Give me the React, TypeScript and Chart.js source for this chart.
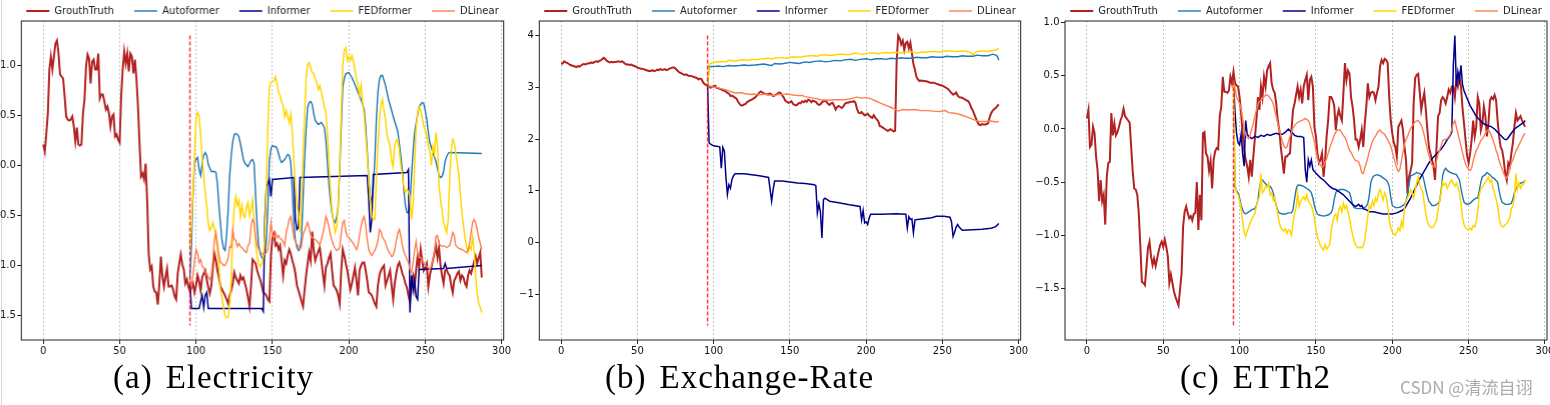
import React, { useEffect, useRef } from "react";
import { Chart, registerables } from "chart.js";
Chart.register(...registerables);

type P = [number, number][];

const SERIES_NAMES = ["GrouthTruth", "Autoformer", "Informer", "FEDformer", "DLinear"];
const SERIES_COLORS = ["#b22222", "#1f77b4", "#00008b", "#ffd700", "#ff7f50"];
const SERIES_WIDTHS = [2, 1.4, 1.5, 1.5, 1.4];
const X_TICKS = [0, 50, 100, 150, 200, 250, 300];

// ---------- (a) Electricity ----------
const elecTruth: P = [[0,0.21],[1,0.14],[2,0.32],[3,0.52],[4,0.96],[5,1.09],[6,0.96],[7,1.09],[8,1.22],[9,1.25],[10,1.12],[11,0.91],[12,0.89],[13,0.87],[14,0.69],[15,0.49],[16,0.46],[17,0.45],[18,0.46],[19,0.49],[20,0.39],[21,0.24],[22,0.38],[23,0.21],[24,0.20],[25,0.21],[26,0.52],[27,0.66],[28,0.99],[29,1.11],[30,1.07],[31,0.82],[32,1.04],[33,1.06],[34,0.96],[35,0.96],[36,1.12],[37,0.67],[38,0.71],[39,0.71],[40,0.64],[41,0.56],[42,0.59],[43,0.52],[44,0.39],[45,0.49],[46,0.51],[47,0.29],[48,0.31],[49,0.26],[50,0.23],[51,0.69],[52,0.96],[53,1.14],[54,1.02],[55,1.12],[56,0.94],[57,1.12],[58,1.09],[59,0.92],[60,1.06],[61,0.86],[62,0.59],[63,0.22],[64,-0.11],[65,-0.08],[66,-0.14],[67,0.02],[68,-0.34],[69,-0.88],[70,-1.04],[71,-1.01],[72,-1.21],[73,-1.26],[74,-1.27],[75,-1.39],[76,-1.18],[77,-0.91],[78,-1.11],[79,-1.21],[80,-1.11],[81,-1.03],[82,-1.21],[83,-1.21],[84,-1.20],[85,-1.24],[86,-1.31],[87,-1.34],[88,-1.08],[89,-0.98],[90,-0.89],[91,-0.99],[92,-1.04],[93,-1.18],[94,-1.14],[95,-1.21],[96,-1.26],[97,-1.22],[98,-1.18],[99,-1.27],[100,-1.20],[101,-1.10],[102,-1.16],[103,-1.25],[104,-1.12],[105,-1.08],[106,-1.05],[107,-1.14],[108,-1.22],[109,-1.28],[110,-1.20],[111,-1.02],[112,-0.88],[113,-0.95],[114,-1.05],[115,-1.12],[116,-1.21],[117,-1.24],[118,-1.27],[119,-1.30],[120,-1.34],[121,-1.38],[122,-1.30],[123,-1.25],[124,-1.18],[125,-1.07],[126,-1.12],[127,-1.15],[128,-1.18],[129,-1.10],[130,-1.14],[131,-1.12],[132,-1.18],[133,-1.24],[134,-1.32],[135,-1.41],[136,-1.20],[137,-0.94],[138,-0.96],[139,-0.98],[140,-1.05],[141,-1.10],[142,-1.14],[143,-1.20],[144,-1.27],[145,-1.28],[146,-1.30],[147,-1.34],[148,-1.36],[149,-0.90],[150,-0.72],[151,-0.68],[152,-0.80],[153,-0.78],[154,-0.84],[155,-0.80],[156,-0.95],[157,-1.10],[158,-0.95],[159,-0.98],[160,-0.90],[161,-0.84],[162,-0.88],[163,-0.95],[164,-1.00],[165,-1.08],[166,-1.20],[167,-1.25],[168,-1.30],[169,-1.36],[170,-1.41],[171,-1.25],[172,-1.10],[173,-0.98],[174,-0.87],[175,-0.95],[176,-0.66],[177,-0.85],[178,-0.95],[179,-0.90],[180,-0.86],[181,-0.82],[182,-0.95],[183,-1.08],[184,-1.20],[185,-1.02],[186,-0.98],[187,-0.92],[188,-0.88],[189,-1.05],[190,-1.20],[191,-1.22],[192,-1.25],[193,-1.30],[194,-1.38],[195,-1.05],[196,-0.84],[197,-0.90],[198,-0.98],[199,-1.05],[200,-1.15],[201,-1.24],[202,-1.18],[203,-1.10],[204,-1.02],[205,-1.15],[206,-1.30],[207,-1.05],[208,-1.00],[209,-0.97],[210,-0.97],[211,-1.05],[212,-1.15],[213,-1.27],[214,-1.28],[215,-1.30],[216,-1.34],[217,-1.38],[218,-1.41],[219,-1.20],[220,-1.10],[221,-1.05],[222,-1.02],[223,-1.00],[224,-1.20],[225,-1.15],[226,-1.10],[227,-1.05],[228,-1.20],[229,-1.34],[230,-1.18],[231,-1.08],[232,-1.00],[233,-0.97],[234,-1.02],[235,-1.08],[236,-1.12],[237,-1.18],[238,-1.22],[239,-1.30],[240,-1.37],[241,-1.15],[242,-1.10],[243,-1.22],[244,-1.05],[245,-0.91],[246,-1.02],[247,-0.84],[248,-0.95],[249,-1.05],[250,-1.02],[251,-0.98],[252,-1.21],[253,-1.10],[254,-1.02],[255,-0.95],[256,-0.88],[257,-0.81],[258,-0.92],[259,-0.82],[260,-1.00],[261,-1.10],[262,-1.18],[263,-1.05],[264,-1.04],[265,-1.08],[266,-1.10],[267,-1.20],[268,-1.27],[269,-1.15],[270,-1.12],[271,-1.08],[272,-1.06],[273,-1.15],[274,-1.10],[275,-1.12],[276,-1.18],[277,-1.21],[278,-1.10],[279,-1.05],[280,-1.08],[281,-1.02],[282,-0.96],[283,-0.91],[284,-0.98],[285,-0.92],[286,-0.87],[287,-1.12]];
const elecAuto: P = [[96,-1.14],[97,-0.80],[98,-0.30],[99,0.03],[100,0.06],[101,0.08],[102,-0.04],[103,-0.10],[104,0.02],[105,0.10],[106,0.13],[107,0.10],[108,0.01],[110,-0.06],[112,-0.06],[113,-0.07],[114,-0.18],[115,-0.40],[116,-0.58],[117,-0.75],[118,-0.83],[119,-0.85],[120,-0.70],[121,-0.45],[122,-0.10],[123,0.10],[124,0.24],[125,0.31],[126,0.32],[127,0.31],[128,0.29],[129,0.22],[130,0.14],[131,0.06],[132,0.02],[134,-0.01],[135,0.02],[136,0.05],[137,0.06],[138,0.02],[139,-0.30],[140,-0.60],[141,-0.80],[142,-0.88],[143,-0.92],[144,-0.94],[145,-0.90],[146,-0.75],[147,-0.41],[148,0.05],[149,0.17],[150,0.20],[151,0.19],[152,0.19],[153,0.17],[154,0.12],[155,0.06],[156,0.03],[158,0.06],[160,0.11],[161,0.10],[162,0.03],[163,-0.25],[164,-0.58],[165,-0.75],[166,-0.82],[167,-0.85],[168,-0.82],[169,-0.72],[170,-0.35],[171,0.05],[172,0.36],[173,0.58],[174,0.63],[175,0.64],[176,0.61],[177,0.52],[178,0.45],[180,0.41],[182,0.43],[184,0.38],[185,0.25],[186,0.02],[187,-0.20],[188,-0.36],[189,-0.48],[190,-0.55],[191,-0.57],[192,-0.52],[193,-0.41],[194,-0.05],[195,0.38],[196,0.78],[197,0.87],[198,0.92],[200,0.93],[202,0.88],[204,0.81],[206,0.73],[208,0.66],[210,0.56],[211,0.40],[212,0.15],[213,-0.12],[214,-0.30],[215,-0.37],[216,-0.22],[217,0.06],[218,0.46],[219,0.73],[220,0.86],[221,0.90],[222,0.90],[224,0.80],[226,0.66],[228,0.55],[230,0.44],[232,0.34],[234,0.10],[235,-0.05],[236,-0.25],[237,-0.40],[238,-0.47],[239,-0.47],[240,-0.40],[241,-0.10],[242,0.13],[243,0.33],[244,0.42],[246,0.59],[248,0.63],[249,0.62],[250,0.55],[251,0.46],[252,0.33],[253,0.23],[255,0.13],[257,0.04],[258,-0.03],[259,-0.10],[260,-0.12],[261,-0.11],[262,-0.06],[263,0.04],[264,0.09],[265,0.12],[266,0.13],[287,0.12]];
const elecInf: P = [[96,-1.18],[97,-1.43],[102,-1.43],[103,-1.36],[104,-1.30],[105,-1.42],[106,-1.30],[107,-1.27],[108,-1.43],[143,-1.43],[144,-1.46],[145,-0.54],[146,-0.21],[147,-0.18],[148,-0.14],[149,-0.31],[150,-0.14],[164,-0.12],[165,-0.55],[166,-0.64],[167,-0.62],[168,-0.12],[212,-0.10],[213,-0.34],[214,-0.67],[215,-0.54],[216,-0.09],[238,-0.07],[239,-0.04],[240,-1.47],[241,-1.10],[242,-1.25],[243,-1.14],[244,-1.31],[245,-1.34],[246,-1.04],[262,-1.03],[263,-0.98],[264,-1.03],[287,-1.00]];
const elecFed: P = [[96,-0.85],[97,-0.60],[98,-0.25],[99,0.10],[100,0.46],[101,0.53],[102,0.49],[103,0.30],[104,0.08],[105,-0.10],[106,-0.27],[107,-0.40],[108,-0.58],[109,-0.65],[110,-0.62],[111,-0.57],[112,-0.63],[113,-0.71],[114,-0.85],[115,-1.00],[116,-1.25],[117,-1.32],[118,-1.42],[119,-1.50],[120,-1.52],[121,-1.52],[122,-1.40],[123,-1.14],[124,-0.67],[125,-0.41],[126,-0.31],[127,-0.40],[128,-0.35],[129,-0.51],[130,-0.40],[131,-0.50],[132,-0.52],[133,-0.42],[134,-0.37],[135,-0.50],[136,-0.44],[137,-0.34],[138,-0.55],[139,-0.80],[140,-0.90],[141,-0.98],[142,-1.01],[143,-0.98],[144,-0.92],[145,-0.71],[146,-0.21],[147,0.39],[148,0.79],[149,0.83],[150,0.84],[151,0.85],[152,0.89],[153,0.82],[154,0.73],[155,0.70],[156,0.63],[157,0.60],[158,0.49],[159,0.55],[160,0.49],[161,0.43],[162,0.52],[163,0.33],[164,0.05],[165,-0.20],[166,-0.40],[167,-0.47],[168,-0.67],[169,-0.37],[170,0.06],[171,0.50],[172,0.86],[173,1.01],[174,1.03],[175,0.98],[176,0.93],[177,0.92],[178,0.87],[179,0.83],[180,0.76],[181,0.80],[182,0.73],[183,0.66],[184,0.59],[185,0.53],[186,0.33],[187,0.00],[188,-0.25],[189,-0.45],[190,-0.57],[191,-0.67],[192,-0.62],[193,-0.41],[194,0.00],[195,0.53],[196,1.00],[197,1.15],[198,1.18],[199,1.05],[200,1.09],[201,1.05],[202,1.10],[203,1.04],[204,0.95],[205,0.86],[206,0.82],[207,0.70],[208,0.80],[209,0.63],[210,0.50],[211,0.30],[212,0.10],[213,-0.15],[214,-0.35],[215,-0.50],[216,-0.54],[217,-0.54],[218,-0.14],[219,0.19],[220,0.46],[221,0.60],[222,0.66],[223,0.55],[224,0.46],[225,0.30],[226,0.25],[227,0.19],[228,0.05],[229,-0.01],[230,0.20],[231,0.25],[232,0.26],[233,0.15],[234,0.00],[235,-0.10],[236,-0.21],[237,-0.27],[238,-0.24],[239,-0.26],[240,-0.31],[241,-0.54],[242,-0.40],[243,0.00],[244,0.36],[245,0.53],[246,0.59],[247,0.55],[248,0.48],[249,0.40],[250,0.35],[251,0.29],[252,0.20],[253,0.13],[254,0.00],[255,0.19],[256,0.12],[257,0.33],[258,0.20],[259,-0.20],[260,-0.35],[261,-0.45],[262,-0.57],[263,-0.62],[264,-0.67],[265,-0.55],[266,-0.14],[267,0.15],[268,0.26],[269,0.23],[270,0.12],[271,0.02],[272,-0.10],[273,-0.30],[274,-0.48],[275,-0.60],[276,-0.72],[277,-0.81],[278,-0.87],[279,-0.81],[280,-0.84],[281,-0.71],[282,-0.85],[283,-1.10],[284,-1.28],[285,-1.38],[286,-1.42],[287,-1.47]];
const elecDlin: P = [[96,-1.14],[97,-1.21],[98,-1.10],[99,-0.95],[100,-0.84],[101,-0.88],[102,-0.97],[103,-0.94],[104,-1.01],[105,-1.02],[106,-1.07],[107,-1.08],[108,-1.12],[109,-1.14],[110,-1.10],[111,-0.94],[112,-0.74],[113,-0.67],[114,-0.78],[115,-0.90],[116,-0.97],[117,-0.98],[118,-1.00],[119,-1.00],[120,-0.97],[121,-0.93],[122,-0.81],[123,-0.82],[124,-0.64],[125,-0.74],[126,-0.75],[127,-0.81],[128,-0.78],[129,-0.81],[130,-0.82],[131,-0.84],[132,-0.86],[133,-0.87],[134,-0.80],[135,-0.78],[136,-0.61],[137,-0.54],[138,-0.57],[139,-0.70],[140,-0.80],[141,-0.84],[142,-0.86],[143,-0.88],[144,-0.89],[145,-0.89],[146,-0.87],[147,-0.84],[148,-0.74],[149,-0.57],[150,-0.70],[151,-0.72],[152,-0.67],[153,-0.72],[154,-0.70],[155,-0.73],[156,-0.74],[157,-0.76],[158,-0.80],[159,-0.67],[160,-0.61],[161,-0.54],[162,-0.51],[163,-0.62],[164,-0.72],[165,-0.76],[166,-0.79],[167,-0.81],[168,-0.84],[169,-0.81],[170,-0.69],[171,-0.65],[172,-0.61],[173,-0.57],[174,-0.62],[175,-0.70],[176,-0.72],[178,-0.74],[180,-0.77],[181,-0.80],[182,-0.74],[183,-0.68],[184,-0.61],[185,-0.51],[186,-0.55],[187,-0.62],[188,-0.70],[189,-0.75],[190,-0.80],[191,-0.83],[192,-0.85],[193,-0.84],[194,-0.82],[195,-0.68],[196,-0.57],[197,-0.55],[198,-0.66],[199,-0.71],[200,-0.72],[201,-0.74],[202,-0.76],[203,-0.78],[204,-0.81],[205,-0.84],[206,-0.80],[207,-0.70],[208,-0.61],[209,-0.54],[210,-0.51],[211,-0.60],[212,-0.74],[213,-0.84],[214,-0.88],[215,-0.90],[216,-0.87],[217,-0.85],[218,-0.81],[219,-0.75],[220,-0.64],[221,-0.66],[222,-0.72],[223,-0.74],[224,-0.77],[225,-0.82],[226,-0.86],[227,-0.88],[228,-0.91],[229,-0.90],[230,-0.84],[231,-0.75],[232,-0.68],[233,-0.64],[234,-0.70],[235,-0.80],[236,-0.86],[237,-0.90],[238,-0.94],[239,-0.97],[240,-1.04],[241,-1.07],[242,-0.97],[243,-0.85],[244,-0.76],[245,-0.88],[246,-0.92],[247,-0.92],[248,-0.95],[249,-0.97],[250,-1.00],[251,-1.01],[252,-1.02],[253,-1.04],[254,-1.00],[255,-0.94],[256,-0.86],[257,-0.71],[258,-0.70],[259,-0.78],[260,-0.80],[261,-0.81],[262,-0.80],[264,-0.82],[266,-0.80],[267,-0.74],[268,-0.67],[269,-0.70],[270,-0.80],[272,-0.83],[274,-0.84],[276,-0.86],[277,-0.87],[278,-0.85],[279,-0.78],[280,-0.67],[281,-0.57],[282,-0.54],[283,-0.57],[284,-0.64],[285,-0.72],[286,-0.78],[287,-0.84]];
const elecSplit: P = [[96,1.3],[96,-1.6]];
const elecYTicks = [-1.5, -1, -0.5, 0, 0.5, 1];

// ---------- (b) Exchange-Rate ----------
const rateTruth: P = [[0,3.45],[1,3.46],[2,3.50],[3,3.48],[4,3.47],[5,3.45],[6,3.43],[7,3.42],[8,3.41],[9,3.40],[10,3.39],[11,3.41],[12,3.40],[13,3.42],[14,3.44],[15,3.45],[16,3.44],[17,3.46],[18,3.46],[19,3.47],[20,3.48],[21,3.47],[22,3.49],[23,3.50],[24,3.49],[25,3.51],[26,3.52],[27,3.55],[28,3.57],[29,3.54],[30,3.51],[31,3.49],[32,3.48],[33,3.49],[34,3.48],[35,3.49],[36,3.49],[37,3.50],[38,3.50],[39,3.49],[40,3.50],[41,3.48],[42,3.45],[43,3.44],[44,3.44],[45,3.43],[46,3.44],[47,3.42],[48,3.41],[49,3.40],[50,3.38],[51,3.37],[52,3.36],[53,3.36],[54,3.35],[55,3.34],[56,3.33],[57,3.32],[58,3.31],[59,3.32],[60,3.33],[61,3.31],[62,3.32],[63,3.34],[64,3.33],[65,3.35],[66,3.34],[67,3.34],[68,3.35],[69,3.33],[70,3.34],[71,3.36],[72,3.37],[73,3.38],[74,3.38],[75,3.36],[76,3.33],[77,3.30],[78,3.28],[79,3.27],[80,3.25],[81,3.24],[82,3.25],[83,3.23],[84,3.22],[85,3.22],[86,3.21],[87,3.20],[88,3.19],[89,3.18],[90,3.15],[91,3.17],[92,3.16],[93,3.10],[94,3.06],[95,3.05],[96,3.03],[97,3.02],[98,2.99],[99,3.01],[100,3.02],[101,3.03],[102,2.99],[103,2.98],[104,2.97],[105,2.96],[106,2.94],[107,2.93],[108,2.92],[109,2.89],[110,2.88],[111,2.83],[112,2.84],[113,2.82],[114,2.80],[115,2.78],[116,2.72],[117,2.68],[118,2.65],[119,2.65],[120,2.67],[121,2.68],[122,2.72],[123,2.73],[124,2.75],[125,2.76],[126,2.78],[127,2.80],[128,2.83],[129,2.86],[130,2.90],[131,2.92],[132,2.90],[133,2.88],[134,2.87],[135,2.86],[136,2.87],[137,2.88],[138,2.86],[139,2.83],[140,2.84],[141,2.86],[142,2.88],[143,2.90],[144,2.89],[145,2.84],[146,2.80],[147,2.74],[148,2.72],[149,2.70],[150,2.71],[151,2.73],[152,2.68],[153,2.66],[154,2.65],[155,2.67],[156,2.70],[157,2.69],[158,2.73],[159,2.71],[160,2.74],[161,2.72],[162,2.76],[163,2.75],[164,2.71],[165,2.74],[166,2.73],[167,2.72],[168,2.68],[169,2.66],[170,2.67],[171,2.71],[172,2.73],[173,2.74],[174,2.72],[175,2.68],[176,2.66],[177,2.69],[178,2.70],[179,2.64],[180,2.57],[181,2.62],[182,2.64],[183,2.62],[184,2.60],[185,2.63],[186,2.68],[187,2.70],[188,2.70],[189,2.71],[190,2.72],[191,2.72],[192,2.73],[193,2.70],[194,2.58],[195,2.51],[196,2.50],[197,2.52],[198,2.49],[199,2.46],[200,2.47],[201,2.49],[202,2.45],[203,2.43],[204,2.41],[205,2.46],[206,2.41],[207,2.38],[208,2.34],[209,2.25],[210,2.24],[211,2.22],[212,2.20],[213,2.18],[214,2.16],[215,2.17],[216,2.19],[217,2.17],[218,2.15],[219,2.16],[220,3.50],[221,4.00],[222,3.95],[223,3.83],[224,3.90],[225,3.72],[226,3.86],[227,3.88],[228,3.75],[229,3.86],[230,3.66],[231,3.45],[232,3.34],[233,3.20],[234,3.15],[235,3.12],[236,3.13],[238,3.12],[240,3.11],[242,3.09],[244,3.09],[246,3.07],[248,3.05],[250,3.03],[252,3.00],[254,2.96],[255,2.92],[256,2.89],[257,2.86],[258,2.87],[259,2.90],[260,2.84],[261,2.81],[263,2.80],[265,2.76],[267,2.73],[268,2.68],[269,2.60],[270,2.55],[271,2.47],[272,2.40],[273,2.33],[274,2.28],[275,2.27],[276,2.29],[277,2.28],[278,2.28],[279,2.29],[280,2.31],[281,2.42],[282,2.50],[283,2.55],[284,2.58],[285,2.60],[286,2.64],[287,2.67]];
const rateAuto: P = [[96,3.03],[97,3.40],[100,3.40],[103,3.41],[106,3.40],[110,3.42],[113,3.41],[117,3.42],[120,3.43],[123,3.42],[127,3.43],[130,3.44],[133,3.45],[136,3.43],[138,3.42],[140,3.46],[143,3.45],[146,3.46],[150,3.48],[153,3.47],[156,3.46],[160,3.49],[163,3.48],[166,3.50],[170,3.51],[173,3.49],[176,3.50],[180,3.52],[183,3.51],[186,3.53],[190,3.54],[193,3.52],[196,3.54],[200,3.55],[203,3.53],[206,3.55],[210,3.55],[213,3.54],[216,3.56],[220,3.55],[223,3.57],[226,3.56],[230,3.56],[233,3.58],[236,3.57],[240,3.57],[243,3.59],[246,3.58],[250,3.58],[253,3.60],[256,3.59],[260,3.59],[263,3.61],[266,3.60],[270,3.60],[273,3.62],[276,3.61],[280,3.61],[283,3.64],[285,3.62],[286,3.60],[287,3.52]];
const rateInf: P = [[96,3.05],[97,1.93],[98,1.90],[100,1.87],[104,1.85],[105,1.44],[106,1.84],[107,1.77],[108,1.28],[109,0.93],[110,1.12],[111,1.05],[112,1.22],[113,1.29],[114,1.33],[120,1.33],[125,1.31],[130,1.29],[136,1.26],[137,1.03],[138,0.80],[139,1.03],[140,1.19],[145,1.19],[150,1.17],[155,1.15],[160,1.14],[166,1.12],[167,1.10],[168,0.57],[169,0.75],[170,0.60],[171,0.09],[172,0.83],[173,0.86],[176,0.80],[182,0.77],[189,0.73],[196,0.70],[197,0.44],[198,0.62],[199,0.38],[200,0.40],[201,0.35],[202,0.48],[203,0.55],[210,0.55],[220,0.56],[226,0.55],[227,0.28],[228,0.50],[229,0.45],[230,0.46],[231,0.19],[232,0.44],[235,0.45],[243,0.48],[246,0.51],[251,0.51],[255,0.49],[256,0.40],[257,0.12],[258,0.20],[259,0.30],[260,0.35],[261,0.30],[263,0.24],[270,0.25],[276,0.26],[282,0.28],[285,0.31],[287,0.37]];
const rateFed: P = [[96,3.05],[97,3.45],[99,3.47],[102,3.49],[105,3.50],[108,3.49],[110,3.52],[113,3.51],[115,3.51],[118,3.53],[120,3.53],[123,3.52],[125,3.54],[128,3.53],[130,3.54],[133,3.55],[135,3.56],[138,3.55],[140,3.56],[143,3.57],[145,3.57],[148,3.56],[150,3.58],[153,3.59],[155,3.58],[158,3.59],[160,3.60],[163,3.61],[165,3.61],[168,3.60],[170,3.62],[173,3.63],[175,3.62],[178,3.62],[180,3.63],[183,3.64],[185,3.64],[188,3.63],[190,3.64],[193,3.66],[195,3.65],[198,3.64],[200,3.65],[203,3.66],[205,3.66],[208,3.65],[210,3.66],[213,3.67],[215,3.66],[218,3.67],[220,3.67],[223,3.66],[225,3.67],[228,3.68],[230,3.68],[233,3.66],[235,3.67],[238,3.68],[240,3.68],[243,3.69],[245,3.69],[248,3.68],[250,3.69],[253,3.70],[255,3.70],[258,3.69],[260,3.69],[263,3.70],[265,3.70],[268,3.68],[270,3.63],[272,3.68],[275,3.70],[278,3.70],[280,3.69],[283,3.71],[285,3.72],[287,3.75]];
const rateDlin: P = [[96,3.03],[98,3.02],[100,3.00],[102,3.00],[104,2.98],[107,2.96],[110,2.93],[113,2.90],[116,2.89],[118,2.90],[120,2.88],[124,2.86],[126,2.87],[128,2.86],[132,2.86],[134,2.87],[136,2.85],[140,2.84],[142,2.86],[145,2.86],[148,2.87],[150,2.86],[155,2.84],[158,2.84],[160,2.82],[165,2.79],[168,2.78],[170,2.76],[175,2.75],[178,2.76],[180,2.76],[185,2.76],[188,2.77],[190,2.78],[194,2.81],[197,2.79],[200,2.80],[203,2.78],[206,2.74],[209,2.70],[213,2.65],[217,2.60],[221,2.54],[224,2.57],[228,2.56],[232,2.57],[236,2.55],[240,2.55],[244,2.54],[248,2.53],[252,2.55],[254,2.51],[258,2.50],[262,2.47],[266,2.43],[270,2.38],[274,2.34],[278,2.34],[282,2.35],[285,2.33],[287,2.34]];
const rateSplit: P = [[96,4.0],[96,-1.6]];
const rateYTicks = [-1, 0, 1, 2, 3, 4];

// ---------- (c) ETTh2 ----------
const etthTruth: P = [[0,0.10],[1,0.18],[2,-0.17],[3,-0.15],[4,0.02],[5,-0.04],[6,-0.26],[7,-0.39],[8,-0.68],[9,-0.48],[10,-0.68],[11,-0.62],[12,-0.90],[13,-0.45],[14,-0.32],[15,-0.31],[16,0.15],[17,-0.06],[18,0.05],[19,-0.06],[20,-0.03],[21,0.02],[22,0.08],[23,0.12],[24,0.19],[25,0.12],[26,0.10],[27,0.08],[28,0.06],[29,-0.17],[30,-0.40],[31,-0.56],[32,-0.57],[33,-0.62],[34,-0.80],[35,-1.10],[36,-1.44],[37,-1.45],[38,-1.47],[39,-1.30],[40,-1.12],[41,-1.06],[42,-1.20],[43,-1.28],[44,-1.22],[45,-1.29],[46,-1.22],[47,-1.15],[48,-1.09],[49,-1.06],[50,-1.11],[51,-1.04],[52,-1.11],[53,-1.20],[54,-1.45],[55,-1.37],[56,-1.45],[57,-1.53],[58,-1.58],[59,-1.62],[60,-1.66],[61,-1.51],[62,-1.36],[63,-0.92],[64,-0.78],[65,-0.73],[66,-0.79],[67,-0.84],[68,-0.82],[69,-0.86],[70,-0.80],[71,-0.79],[72,-0.50],[73,-0.95],[74,-0.62],[75,-0.86],[76,-0.04],[77,-0.03],[78,-0.23],[79,-0.26],[80,-0.39],[81,-0.30],[82,-0.56],[83,-0.29],[84,-0.21],[85,-0.18],[86,-0.19],[87,0.12],[88,0.21],[89,0.49],[90,0.35],[91,0.35],[92,0.34],[93,0.36],[94,0.49],[95,0.43],[96,0.54],[97,0.43],[98,0.41],[99,0.40],[100,0.30],[101,0.15],[102,-0.04],[103,-0.20],[104,-0.29],[105,-0.35],[106,-0.45],[107,-0.29],[108,-0.45],[109,-0.26],[110,-0.09],[111,0.08],[112,0.30],[113,0.18],[114,0.40],[115,0.30],[116,0.49],[117,0.40],[118,0.55],[119,0.59],[120,0.62],[121,0.43],[122,0.37],[123,0.34],[124,0.24],[125,0.08],[126,-0.01],[127,-0.17],[128,-0.29],[129,-0.42],[130,-0.26],[131,-0.26],[132,-0.24],[133,-0.23],[134,-0.01],[135,0.18],[136,0.24],[137,0.32],[138,0.40],[139,0.30],[140,0.37],[141,0.24],[142,0.40],[143,0.46],[144,0.51],[145,0.27],[146,0.46],[147,0.49],[148,0.40],[149,0.02],[150,-0.07],[151,-0.23],[152,-0.32],[153,-0.29],[154,-0.23],[155,-0.45],[156,-0.30],[157,-0.07],[158,0.08],[159,0.30],[160,0.30],[161,0.27],[162,0.22],[163,-0.01],[164,0.12],[165,0.18],[166,0.12],[167,0.08],[168,0.34],[169,0.62],[170,0.46],[171,0.55],[172,0.52],[173,0.30],[174,0.21],[175,0.08],[176,-0.10],[177,-0.10],[178,-0.17],[179,-0.10],[180,-0.01],[181,-0.17],[182,0.05],[183,0.21],[184,0.43],[185,0.30],[186,0.34],[187,0.35],[188,0.34],[189,0.27],[190,0.34],[191,0.40],[192,0.59],[193,0.65],[194,0.62],[195,0.66],[196,0.65],[197,0.62],[198,0.30],[199,0.08],[200,-0.04],[201,-0.13],[202,-0.17],[203,-0.26],[204,0.02],[205,0.05],[206,0.08],[207,-0.01],[208,-0.17],[209,-0.29],[210,-0.61],[211,-0.45],[212,-0.39],[213,-0.32],[214,0.24],[215,0.48],[216,0.51],[217,0.52],[218,0.35],[219,0.18],[220,0.27],[221,0.34],[222,0.18],[223,-0.01],[224,-0.17],[225,-0.23],[226,-0.29],[227,-0.35],[228,-0.48],[229,-0.17],[230,0.12],[231,0.15],[232,0.27],[233,0.30],[234,0.28],[235,0.24],[236,0.30],[237,0.37],[238,0.34],[239,0.40],[240,0.40],[241,0.30],[242,0.46],[243,0.40],[244,0.49],[245,0.40],[246,0.20],[247,0.05],[248,-0.10],[249,-0.25],[250,-0.32],[251,-0.23],[252,-0.10],[253,0.08],[254,-0.07],[255,0.02],[256,0.30],[257,0.24],[258,-0.01],[259,0.05],[260,0.21],[261,0.12],[262,-0.07],[263,0.05],[264,0.27],[265,0.30],[266,0.28],[267,0.32],[268,0.27],[269,0.08],[270,-0.07],[271,-0.17],[272,-0.20],[273,-0.29],[274,-0.42],[275,-0.48],[276,-0.32],[277,-0.35],[278,-0.23],[279,-0.13],[280,0.02],[281,0.15],[282,0.08],[283,0.10],[284,0.12],[285,0.08],[286,0.05],[287,0.02]];
const etthAuto: P = [[96,0.45],[97,-0.55],[98,-0.58],[99,-0.60],[100,-0.65],[101,-0.72],[102,-0.76],[103,-0.79],[104,-0.80],[106,-0.78],[108,-0.76],[110,-0.75],[111,-0.72],[112,-0.67],[113,-0.56],[114,-0.49],[115,-0.48],[116,-0.50],[118,-0.53],[120,-0.54],[121,-0.56],[122,-0.60],[123,-0.66],[124,-0.72],[125,-0.77],[126,-0.79],[128,-0.80],[130,-0.80],[132,-0.79],[134,-0.79],[135,-0.76],[136,-0.66],[137,-0.57],[138,-0.53],[140,-0.53],[142,-0.54],[144,-0.56],[146,-0.58],[147,-0.60],[148,-0.65],[149,-0.72],[150,-0.77],[151,-0.80],[152,-0.81],[155,-0.82],[158,-0.81],[160,-0.79],[161,-0.75],[162,-0.66],[163,-0.60],[164,-0.58],[166,-0.57],[168,-0.57],[170,-0.58],[172,-0.60],[173,-0.65],[174,-0.71],[175,-0.74],[177,-0.75],[180,-0.75],[183,-0.73],[184,-0.70],[185,-0.62],[186,-0.50],[187,-0.46],[188,-0.44],[190,-0.43],[192,-0.44],[194,-0.46],[196,-0.48],[197,-0.50],[198,-0.54],[199,-0.64],[200,-0.72],[202,-0.74],[204,-0.74],[206,-0.73],[208,-0.71],[209,-0.68],[210,-0.62],[211,-0.52],[212,-0.44],[214,-0.43],[216,-0.41],[218,-0.42],[220,-0.44],[221,-0.50],[222,-0.57],[223,-0.63],[224,-0.68],[226,-0.72],[228,-0.72],[230,-0.70],[231,-0.68],[232,-0.58],[233,-0.44],[234,-0.39],[235,-0.37],[236,-0.39],[238,-0.41],[240,-0.42],[242,-0.43],[244,-0.48],[245,-0.56],[246,-0.63],[247,-0.69],[249,-0.71],[251,-0.70],[253,-0.67],[255,-0.65],[256,-0.65],[257,-0.58],[258,-0.50],[259,-0.45],[261,-0.43],[262,-0.41],[264,-0.43],[265,-0.45],[267,-0.47],[269,-0.50],[270,-0.58],[271,-0.65],[272,-0.69],[274,-0.71],[276,-0.71],[278,-0.70],[279,-0.66],[280,-0.60],[281,-0.56],[282,-0.54],[284,-0.51],[286,-0.50],[287,-0.48]];
const etthInf: P = [[96,0.45],[97,0.16],[98,-0.04],[99,-0.13],[100,-0.15],[101,-0.05],[102,-0.23],[103,-0.35],[104,0.08],[105,-0.05],[106,-0.07],[108,-0.09],[110,-0.07],[112,-0.08],[114,-0.06],[116,-0.07],[118,-0.05],[120,-0.06],[122,-0.05],[124,-0.04],[126,-0.05],[128,-0.05],[130,-0.03],[132,0.00],[134,-0.03],[136,-0.06],[138,-0.07],[140,-0.07],[142,-0.08],[143,-0.38],[144,-0.50],[145,-0.29],[146,-0.35],[147,-0.29],[148,-0.38],[149,-0.40],[151,-0.43],[153,-0.46],[155,-0.48],[157,-0.51],[159,-0.54],[161,-0.56],[163,-0.57],[166,-0.60],[168,-0.62],[170,-0.65],[172,-0.68],[174,-0.71],[176,-0.73],[178,-0.71],[179,-0.73],[180,-0.72],[181,-0.75],[183,-0.76],[185,-0.78],[188,-0.78],[191,-0.79],[194,-0.80],[197,-0.80],[200,-0.80],[203,-0.79],[206,-0.77],[208,-0.75],[210,-0.70],[212,-0.65],[214,-0.59],[216,-0.53],[218,-0.47],[220,-0.42],[222,-0.37],[224,-0.32],[226,-0.28],[228,-0.25],[230,-0.22],[232,-0.19],[234,-0.15],[236,-0.10],[238,-0.06],[239,-0.03],[240,0.60],[241,0.88],[242,0.40],[243,0.54],[244,0.46],[245,0.60],[246,0.42],[247,0.36],[249,0.29],[251,0.22],[253,0.17],[255,0.12],[257,0.09],[259,0.06],[261,0.04],[263,0.03],[265,0.02],[267,0.00],[269,-0.03],[271,-0.06],[273,-0.09],[274,-0.10],[275,-0.10],[276,-0.08],[278,-0.04],[280,0.00],[282,0.02],[284,0.04],[286,0.06],[287,0.08]];
const etthFed: P = [[96,0.45],[97,-0.50],[98,-0.60],[99,-0.62],[100,-0.68],[101,-0.75],[102,-0.86],[103,-0.97],[104,-1.01],[105,-0.96],[106,-0.92],[107,-0.88],[108,-0.85],[109,-0.82],[110,-0.80],[111,-0.73],[112,-0.67],[113,-0.64],[114,-0.42],[115,-0.60],[116,-0.58],[117,-0.54],[118,-0.55],[119,-0.51],[120,-0.62],[121,-0.60],[122,-0.67],[123,-0.64],[124,-0.72],[125,-0.80],[126,-0.88],[127,-0.93],[128,-0.95],[129,-0.96],[130,-0.94],[131,-0.98],[132,-0.95],[133,-0.96],[134,-1.00],[135,-0.88],[136,-0.80],[137,-0.74],[138,-0.60],[139,-0.73],[140,-0.68],[141,-0.66],[142,-0.64],[143,-0.67],[144,-0.62],[145,-0.68],[146,-0.70],[147,-0.72],[148,-0.77],[149,-0.84],[150,-0.94],[151,-1.02],[152,-1.06],[153,-1.10],[154,-1.12],[155,-1.14],[156,-1.09],[157,-1.13],[158,-1.11],[159,-1.09],[160,-0.96],[161,-0.88],[162,-0.82],[163,-0.80],[164,-0.86],[165,-0.76],[166,-0.73],[167,-0.78],[168,-0.70],[169,-0.75],[170,-0.72],[171,-0.78],[172,-0.84],[173,-0.93],[174,-0.99],[175,-1.05],[176,-1.09],[177,-1.11],[178,-1.12],[179,-1.11],[180,-1.12],[181,-1.10],[182,-1.04],[183,-0.93],[184,-0.82],[185,-0.72],[186,-0.75],[187,-0.68],[188,-0.72],[189,-0.65],[190,-0.68],[191,-0.60],[192,-0.57],[193,-0.62],[194,-0.67],[195,-0.60],[196,-0.63],[197,-0.72],[198,-0.85],[199,-0.93],[200,-0.97],[201,-0.99],[202,-1.00],[203,-0.97],[204,-0.93],[205,-0.96],[206,-0.87],[207,-0.92],[208,-0.74],[209,-0.68],[210,-0.65],[211,-0.62],[212,-0.57],[213,-0.60],[214,-0.65],[215,-0.57],[216,-0.51],[217,-0.45],[218,-0.53],[219,-0.56],[220,-0.60],[221,-0.70],[222,-0.80],[223,-0.87],[224,-0.91],[225,-0.92],[226,-0.93],[227,-0.92],[228,-0.89],[229,-0.86],[230,-0.76],[231,-0.68],[232,-0.60],[233,-0.50],[234,-0.53],[235,-0.51],[236,-0.56],[237,-0.53],[238,-0.50],[239,-0.48],[240,-0.52],[241,-0.54],[242,-0.51],[243,-0.55],[244,-0.60],[245,-0.70],[246,-0.83],[247,-0.90],[248,-0.93],[249,-0.94],[250,-0.95],[251,-0.93],[252,-0.95],[253,-0.91],[254,-0.92],[255,-0.87],[256,-0.78],[257,-0.62],[258,-0.57],[259,-0.55],[260,-0.52],[261,-0.50],[262,-0.48],[263,-0.45],[264,-0.50],[265,-0.48],[266,-0.56],[267,-0.60],[268,-0.66],[269,-0.72],[270,-0.84],[271,-0.90],[272,-0.92],[273,-0.92],[274,-0.90],[275,-0.89],[276,-0.86],[277,-0.84],[278,-0.75],[279,-0.73],[280,-0.65],[281,-0.42],[282,-0.57],[283,-0.51],[284,-0.56],[285,-0.53],[286,-0.52],[287,-0.48]];
const etthDlin: P = [[96,0.45],[97,0.38],[98,0.30],[99,0.27],[100,0.24],[101,0.19],[102,0.10],[103,0.00],[104,-0.05],[105,-0.08],[106,-0.09],[107,-0.05],[108,0.00],[109,0.05],[110,0.12],[111,0.18],[112,0.23],[113,0.26],[114,0.27],[115,0.29],[116,0.30],[117,0.32],[118,0.32],[119,0.31],[120,0.29],[121,0.27],[122,0.24],[123,0.18],[124,0.12],[125,0.05],[126,-0.01],[127,-0.06],[128,-0.12],[129,-0.16],[130,-0.18],[131,-0.17],[132,-0.12],[133,-0.07],[134,-0.03],[135,0.01],[137,0.05],[139,0.07],[141,0.08],[143,0.10],[145,0.08],[146,0.05],[147,-0.01],[148,-0.06],[149,-0.12],[150,-0.21],[151,-0.28],[152,-0.32],[153,-0.34],[154,-0.36],[155,-0.35],[156,-0.31],[157,-0.28],[158,-0.23],[159,-0.18],[160,-0.14],[161,-0.10],[162,-0.06],[163,-0.03],[164,-0.01],[166,-0.01],[167,-0.04],[168,-0.06],[169,-0.08],[170,-0.11],[171,-0.16],[172,-0.20],[173,-0.22],[174,-0.25],[175,-0.28],[176,-0.30],[177,-0.30],[178,-0.31],[179,-0.35],[180,-0.41],[181,-0.42],[182,-0.37],[183,-0.32],[184,-0.27],[185,-0.21],[186,-0.16],[187,-0.12],[188,-0.09],[189,-0.07],[190,-0.04],[191,-0.02],[192,-0.01],[193,-0.03],[195,-0.05],[197,-0.10],[199,-0.16],[201,-0.27],[203,-0.37],[204,-0.40],[205,-0.38],[206,-0.30],[207,-0.22],[208,-0.14],[209,-0.10],[210,-0.07],[211,-0.03],[213,0.03],[215,0.07],[217,0.08],[218,0.06],[219,0.04],[220,-0.01],[221,-0.06],[222,-0.13],[223,-0.19],[224,-0.25],[225,-0.30],[226,-0.34],[228,-0.36],[229,-0.30],[230,-0.24],[231,-0.20],[232,-0.16],[233,-0.11],[234,-0.10],[236,-0.09],[238,-0.05],[239,0.00],[240,0.05],[241,0.08],[242,0.02],[243,-0.04],[244,-0.10],[245,-0.16],[246,-0.22],[247,-0.28],[248,-0.33],[249,-0.36],[250,-0.38],[251,-0.39],[252,-0.37],[253,-0.30],[254,-0.25],[255,-0.20],[256,-0.18],[257,-0.14],[258,-0.11],[259,-0.09],[260,-0.07],[261,-0.04],[262,-0.02],[263,-0.01],[264,-0.03],[265,-0.07],[266,-0.10],[267,-0.15],[268,-0.20],[269,-0.24],[270,-0.30],[271,-0.34],[272,-0.38],[273,-0.42],[274,-0.45],[275,-0.46],[276,-0.43],[277,-0.37],[278,-0.32],[279,-0.29],[280,-0.25],[281,-0.21],[282,-0.18],[283,-0.15],[284,-0.12],[285,-0.09],[286,-0.06],[287,-0.04]];
const etthSplit: P = [[96,0.45],[96,-1.85]];
const etthYTicks = [-1.5, -1, -0.5, 0, 0.5, 1];

// ---------- panel layout ----------
type PanelCfg = {
  series: P[]; split: P; yMin: number; yMax: number; yTicks: number[]; decimals: number;
  left: number; width: number; yW: number; rightW: number;
  tag: string; name: string; capX: number;
};

const PANELS: PanelCfg[] = [
  { series: [elecTruth, elecAuto, elecInf, elecFed, elecDlin], split: elecSplit, yMin: -1.745, yMax: 1.445, yTicks: elecYTicks, decimals: 1,
    left: 0, width: 524.6, yW: 21.3, rightW: 21.3, tag: "(a)", name: "Electricity", capX: 113 },
  { series: [rateTruth, rateAuto, rateInf, rateFed, rateDlin], split: rateSplit, yMin: -1.88, yMax: 4.28, yTicks: rateYTicks, decimals: 0,
    left: 515, width: 530.3, yW: 24.3, rightW: 24.3, tag: "(b)", name: "Exchange-Rate", capX: 605 },
  { series: [etthTruth, etthAuto, etthInf, etthFed, etthDlin], split: etthSplit, yMin: -1.9865, yMax: 1.0165, yTicks: etthYTicks, decimals: 1,
    left: 1032, width: 548.3, yW: 33, rightW: 33, tag: "(c)", name: "ETTh2", capX: 1180 },
];

const CANVAS_TOP = -14;
const CANVAS_H = 374;

const framePlugin = {
  id: "frame",
  afterDraw(chart: any) {
    const { ctx, chartArea: a } = chart;
    ctx.save();
    ctx.strokeStyle = "#222";
    ctx.lineWidth = 1;
    ctx.strokeRect(a.left, a.top, a.right - a.left, a.bottom - a.top);
    ctx.restore();
  },
};

const fmt = (v: number, d: number) => {
  const s = (Math.abs(v) < 1e-9 ? 0 : v).toFixed(d);
  return s.replace("-", "\u2212");
};

function Panel({ cfg }: { cfg: PanelCfg }) {
  const ref = useRef<HTMLCanvasElement>(null);
  useEffect(() => {
    const datasets: any[] = cfg.series.map((s, i) => ({
      label: SERIES_NAMES[i],
      data: s.map(([x, y]) => ({ x, y })),
      borderColor: SERIES_COLORS[i],
      backgroundColor: SERIES_COLORS[i],
      borderWidth: SERIES_WIDTHS[i],
      pointBorderWidth: SERIES_WIDTHS[i],
      pointRadius: 0,
      pointHoverRadius: 0,
      fill: false,
      tension: 0,
      order: 5 - i,
      yAxisID: "y",
      xAxisID: "x",
    }));
    datasets.push({
      label: "split",
      data: cfg.split.map(([x, y]) => ({ x, y })),
      borderColor: "rgba(255,25,25,0.85)",
      borderWidth: 1.5,
      borderDash: [4, 2],
      pointRadius: 0,
      fill: false,
      order: 0,
      yAxisID: "y",
      xAxisID: "x",
    });
    const chart = new Chart(ref.current as HTMLCanvasElement, {
      type: "line",
      data: { datasets },
      plugins: [framePlugin],
      options: {
        responsive: false,
        maintainAspectRatio: false,
        animation: false,
        events: [],
        layout: { padding: 0 },
        font: { family: "'DejaVu Sans'", size: 10 },
        plugins: {
          tooltip: { enabled: false },
          title: { display: false },
          legend: {
            display: true,
            position: "top",
            align: "center",
            maxHeight: 35,
            labels: {
              usePointStyle: true,
              pointStyle: "line",
              pointStyleWidth: 23,
              boxHeight: 10,
              padding: 20,
              color: "#222",
              font: { family: "'DejaVu Sans'", size: 10 },
              filter: (item: any) => item.datasetIndex < 5,
              sort: (a: any, b: any) => a.datasetIndex - b.datasetIndex,
            },
          },
        },
        scales: {
          x: {
            type: "linear",
            position: "bottom",
            min: -14.35,
            max: 301.35,
            afterBuildTicks: (axis: any) => { axis.ticks = X_TICKS.map((v) => ({ value: v })); },
            afterFit: (s: any) => { s.height = 20; },
            grid: {
              display: true, drawOnChartArea: true, drawTicks: true, tickLength: 4,
              color: "#b8b8b8", lineWidth: 0.8, tickColor: "#222", tickWidth: 1, tickBorderDash: [],
            },
            border: { display: false, dash: [2, 2] },
            ticks: {
              padding: 1, color: "#111", maxRotation: 0, autoSkip: false,
              font: { family: "'DejaVu Sans'", size: 10 },
              callback: (v: any) => String(v),
            },
          },
          y: {
            type: "linear",
            position: "left",
            min: cfg.yMin,
            max: cfg.yMax,
            afterBuildTicks: (axis: any) => { axis.ticks = cfg.yTicks.map((v) => ({ value: v })); },
            afterFit: (s: any) => { s.width = cfg.yW; },
            grid: { display: true, drawOnChartArea: false, drawTicks: true, tickLength: 4, tickColor: "#222", tickWidth: 1 },
            border: { display: false },
            ticks: {
              padding: 1.5, color: "#111",
              font: { family: "'DejaVu Sans'", size: 10 },
              callback: (v: any) => fmt(Number(v), cfg.decimals),
            },
          },
          y2: {
            type: "linear",
            position: "right",
            display: true,
            afterFit: (s: any) => { s.width = cfg.rightW; },
            grid: { display: false },
            border: { display: false },
            ticks: { display: false },
          },
        },
      } as any,
    });
    return () => chart.destroy();
  }, []);
  return (
    <canvas
      ref={ref}
      width={cfg.width}
      height={CANVAS_H}
      style={{ position: "absolute", left: cfg.left, top: CANVAS_TOP, width: cfg.width, height: CANVAS_H, display: "block" }}
    />
  );
}

export default function App() {
  return (
    <div style={{ position: "fixed", left: 0, top: 0, width: 1550, height: 405, overflow: "hidden", background: "#fff" }}>
      <div style={{ position: "absolute", left: 1, top: 0, width: 1, height: 405, background: "#d8d8d8" }} />
      {PANELS.map((p, i) => (
        <Panel key={i} cfg={p} />
      ))}
      {PANELS.map((p, i) => (
        <div
          key={"cap" + i}
          style={{
            position: "absolute", left: p.capX, top: 361, whiteSpace: "nowrap",
            fontFamily: "'Liberation Serif', 'Times New Roman', serif", fontSize: 33, lineHeight: "33px",
            letterSpacing: 1, color: "#000",
          }}
        >
          <span>{p.tag}</span>
          <span style={{ marginLeft: 13 }}>{p.name}</span>
        </div>
      ))}
      <div
        style={{
          position: "absolute", left: 1400, top: 378, whiteSpace: "nowrap",
          fontFamily: "'Noto Sans CJK SC', 'Noto Sans', sans-serif", fontSize: 17, lineHeight: "17px", color: "#ababab",
        }}
      >
        CSDN @清流自诩
      </div>
    </div>
  );
}
